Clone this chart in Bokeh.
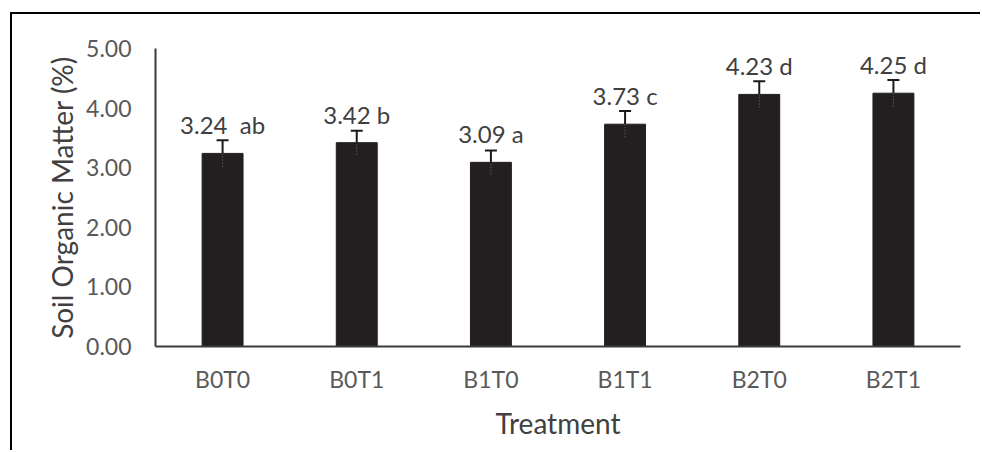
from bokeh.plotting import figure
from bokeh.models import (ColumnDataSource, Whisker, TeeHead, FixedTicker,
                          NumeralTickFormatter, Range1d)
from bokeh.core.properties import value
from bokeh.embed import file_html
from bokeh.resources import INLINE

categories = ["B0T0", "B0T1", "B1T0", "B1T1", "B2T0", "B2T1"]
values = [3.24, 3.42, 3.09, 3.73, 4.23, 4.25]
errors = [0.22, 0.20, 0.20, 0.22, 0.22, 0.22]
letters = ["ab", "b", "a", "c", "d", "d"]
separators = ["\u00a0 ", " ", " ", " ", " ", " "]
y_ticks = [0, 1, 2, 3, 4, 5]

labels = [f"{v:.2f}{s}{l}" for v, s, l in zip(values, separators, letters)]
upper = [v + e for v, e in zip(values, errors)]
lower = [v - e for v, e in zip(values, errors)]

src = ColumnDataSource(dict(x=categories, top=values, upper=upper,
                            lower=lower, label=labels))

FONT = "Lato"

p = figure(x_range=categories, y_range=Range1d(0, 5), width=970, height=438,
           output_backend="svg", toolbar_location=None,
           min_border_left=143, min_border_right=22,
           min_border_top=34, min_border_bottom=106)
p.styles = {"margin-left": "10px", "margin-top": "12px",
            "border-left": "2px solid #000000",
            "border-top": "2px solid #000000"}

p.vbar(x="x", top="top", width=0.305, source=src, fill_color="#231f20",
       line_color="#231f20")

p.segment(x0="x", y0="lower", x1="x", y1="top", source=src,
          line_color="#777777", line_width=1, line_dash="1 2")

w = Whisker(source=src, base="x", upper="upper", lower="top",
            dimension="height", line_color="#1a1a1a", line_width=2,
            upper_head=TeeHead(size=12, line_width=2, line_color="#1a1a1a"),
            lower_head=None, level="overlay")
p.add_layout(w)

p.text(x="x", y="top", text="label", source=src, y_offset=-14,
       text_align="center", text_baseline="bottom",
       text_font=value(FONT), text_font_size="24px", text_color="#404040")

p.xgrid.visible = False
p.ygrid.visible = False
p.outline_line_color = None

p.yaxis.ticker = FixedTicker(ticks=y_ticks)
p.yaxis.formatter = NumeralTickFormatter(format="0.00")
for ax in (p.xaxis[0], p.yaxis[0]):
    ax.axis_line_color = "#3a3a3a"
    ax.axis_line_width = 2
    ax.major_tick_line_color = None
    ax.minor_tick_line_color = None
    ax.major_label_text_font = FONT
    ax.major_label_text_font_size = "23px"
    ax.major_label_text_color = "#595959"
    ax.axis_label_text_font = FONT
    ax.axis_label_text_font_size = "28px"
    ax.axis_label_text_font_style = "normal"
    ax.axis_label_text_color = "#404040"

p.yaxis.axis_label = "Soil Organic Matter (%)"
p.yaxis.major_label_standoff = 18
p.yaxis.axis_label_standoff = 4
p.xaxis.axis_label = "Treatment"
p.xaxis.major_label_standoff = 12
p.xaxis.axis_label_standoff = 10

open("out.html", "w").write(file_html(p, INLINE))
